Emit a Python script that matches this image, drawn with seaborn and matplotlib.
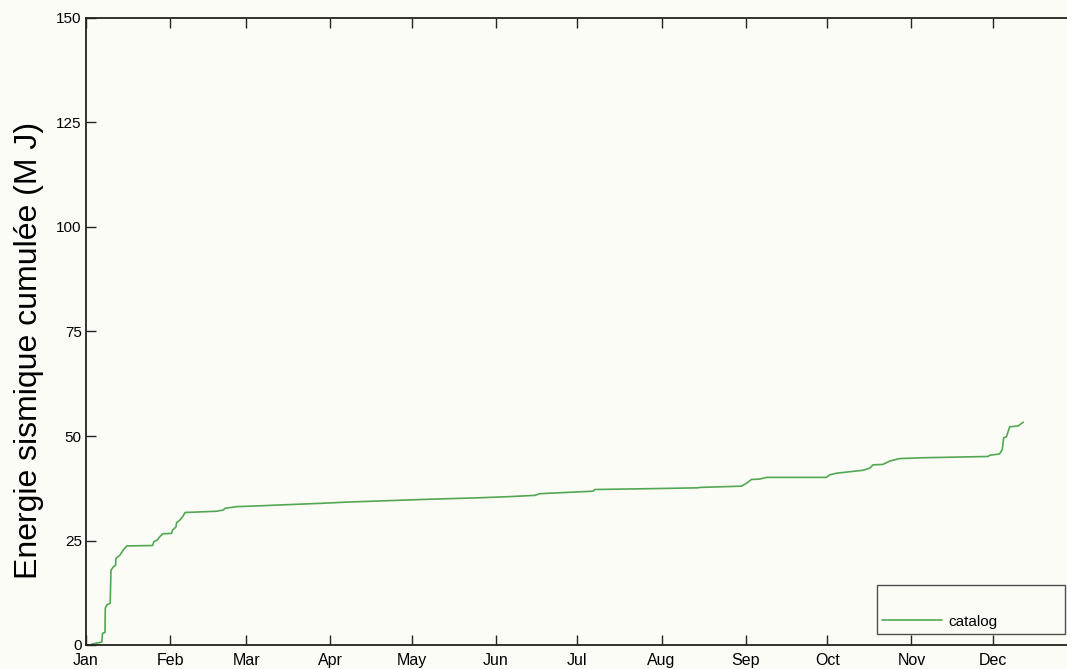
import numpy as np
import pandas as pd
import matplotlib
matplotlib.use("Agg")
import matplotlib.pyplot as plt
import seaborn as sns

# day of year (year 2015) and cumulated energy (MJ)
days = [2.1, 5.8, 6.1, 7.0, 7.1, 7.7, 8.9, 9.2, 10.1, 10.9, 11.0, 12.5, 13.7, 15.0,
        24.5, 25.0, 26.2, 27.2, 28.2, 31.5, 31.9, 33.1, 33.4, 34.6, 35.8, 36.5,
        48.1, 50.6, 51.2, 55.5, 64.1, 71.4, 86.8, 96.5, 127.8, 144.0, 156.1, 165.3,
        167.2, 186.8, 187.4, 207.7, 225.4, 226.1, 241.4, 243.3, 245.1, 248.2, 250.6,
        272.7, 273.9, 276.4, 286.2, 288.6, 289.9, 293.5, 296.0, 299.7, 308.3, 332.2,
        332.9, 336.5, 337.5, 338.0, 339.0, 340.2, 343.3, 345.2]
energy = [0.2, 0.7, 2.8, 3.0, 8.8, 9.6, 10.0, 17.9, 18.7, 19.1, 20.7, 21.5, 22.7, 23.7,
          23.8, 24.7, 25.1, 25.9, 26.6, 26.7, 27.5, 28.2, 29.3, 29.9, 30.9, 31.7,
          32.0, 32.3, 32.7, 33.1, 33.3, 33.5, 33.9, 34.2, 34.9, 35.2, 35.5, 35.8,
          36.2, 36.8, 37.2, 37.4, 37.6, 37.7, 38.0, 38.7, 39.6, 39.7, 40.1,
          40.1, 40.7, 41.1, 41.8, 42.3, 43.1, 43.2, 44.0, 44.6, 44.8, 45.1,
          45.4, 45.7, 46.8, 49.6, 49.8, 52.2, 52.4, 53.3]
# short red trace near the origin
red_days = [0.0, 2.0]
red_energy = [0.0, 0.0]

months = ["Jan", "Feb", "Mar", "Apr", "May", "Jun", "Jul", "Aug", "Sep", "Oct", "Nov", "Dec"]
yticks = [0, 25, 50, 75, 100, 125, 150]

t0 = pd.Timestamp("2015-01-01")
df = pd.DataFrame({"date": t0 + pd.to_timedelta(days, unit="D"), "energy": energy})
df_red = pd.DataFrame({"date": t0 + pd.to_timedelta(red_days, unit="D"), "energy": red_energy})

sns.set_style("white")
plt.rcParams["font.family"] = ["Liberation Sans", "DejaVu Sans"]
plt.rcParams["text.color"] = "black"
bg = "#fcfcf7"

fig = plt.figure(figsize=(10.67, 6.69), dpi=100, facecolor=bg)
ax = fig.add_axes([86 / 1067, 24 / 669, 991 / 1067, 627 / 669])
ax.set_facecolor(bg)

sns.lineplot(data=df_red, x="date", y="energy", ax=ax, color="#d62020", lw=1.2)
sns.lineplot(data=df, x="date", y="energy", ax=ax, color="#52a852", lw=1.2, label="catalog")

ax.set_xlim(t0, pd.Timestamp("2016-01-01"))
ax.set_ylim(0, 150)
ax.set_yticks(yticks)
ax.set_yticklabels([str(v) for v in yticks], fontsize=11)
month_ticks = [pd.Timestamp(2015, m, 1) for m in range(1, 13)]
ax.set_xticks(month_ticks)
ax.set_xticklabels(months, fontsize=11.5)

ax.set_xlabel("")
ax.set_ylabel("Energie sismique cumulée (M J)", fontsize=23, color="black")
ax.yaxis.set_label_coords((44 - 86) / 991, (645 - 350) / 627)

ax.tick_params(direction="in", length=7, width=1, color="#222222",
               top=True, bottom=True, left=True, right=True,
               pad=3, labelcolor="black")
ax.tick_params(axis="x", pad=6)
for s in ax.spines.values():
    s.set_color("#222222")
    s.set_linewidth(1.3)

# legend box stretched over the lower right corner
x0 = (877 - 86) / 991
x1 = (1065 - 86) / 991
leg = ax.legend(loc="lower left", bbox_to_anchor=(x0, 11 / 627, x1 - x0, 0.05), mode="expand",
                frameon=True, fancybox=False, fontsize=11, title=" ", title_fontsize=13,
                handlelength=3.9, borderpad=0.35, handletextpad=0.45, borderaxespad=0)
leg.get_frame().set_edgecolor("#222222")
leg.get_frame().set_linewidth(1.0)
leg.get_frame().set_facecolor(bg)
leg._legend_box.align = "left"

fig.savefig("out.png", dpi=100, facecolor=bg)
